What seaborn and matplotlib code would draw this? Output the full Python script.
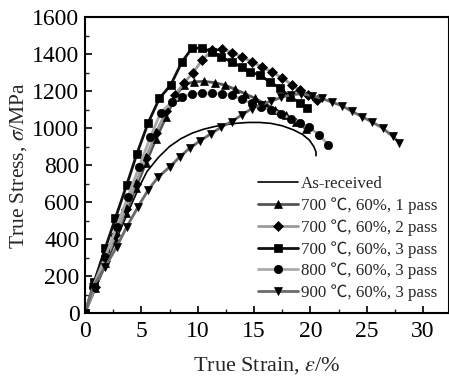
import numpy as np
import pandas as pd
import matplotlib
matplotlib.use("Agg")
import matplotlib.pyplot as plt
import seaborn as sns
from matplotlib.ticker import MultipleLocator

# ---- data ----
asr_x = [0, 1, 2, 3, 4, 4.8, 5.5, 6.5, 7.5, 8.5, 9.5, 10.5, 11.5, 12.5, 13.5, 14.5,
         15.5, 16.5, 17.5, 18.5, 19.3, 19.9, 20.3, 20.5, 20.5]
asr_y = [0, 140, 285, 430, 570, 680, 765, 840, 900, 942, 972, 993, 1008, 1018, 1026,
         1030, 1030, 1025, 1012, 990, 965, 935, 900, 870, 850]

p1_x = [0, 0.9, 1.8, 2.7, 3.6, 4.5, 5.4, 6.3, 7.2, 8.0, 8.8, 9.7, 10.6, 11.5, 12.4,
        13.3, 14.2, 15.1, 16.0, 16.9, 17.8, 18.7, 19.6]
p1_y = [0, 135, 270, 405, 540, 675, 810, 940, 1060, 1170, 1235, 1250, 1252, 1245,
        1232, 1210, 1185, 1160, 1130, 1100, 1068, 1035, 995]

p2_x = [0, 0.9, 1.8, 2.7, 3.6, 4.5, 5.4, 6.3, 7.2, 8.0, 8.8, 9.6, 10.4, 11.3, 12.2,
        13.0, 13.9, 14.8, 15.7, 16.6, 17.5, 18.4, 19.1, 19.8, 20.6]
p2_y = [0, 140, 280, 420, 560, 700, 840, 975, 1090, 1180, 1245, 1300, 1368, 1420,
        1428, 1408, 1385, 1358, 1330, 1303, 1270, 1232, 1205, 1178, 1151]

p3_x = [0, 0.8, 1.8, 2.7, 3.7, 4.6, 5.6, 6.6, 7.6, 8.6, 9.5, 10.4, 11.3, 12.1, 13.0,
        13.9, 14.6, 15.5, 16.4, 17.3, 18.2, 19.1, 19.7]
p3_y = [0, 165, 350, 513, 692, 860, 1027, 1160, 1232, 1357, 1432, 1432, 1411, 1384,
        1357, 1330, 1303, 1287, 1249, 1216, 1168, 1135, 1108]

t800_x = [0, 0.7, 1.8, 2.8, 3.8, 4.8, 5.8, 6.7, 7.7, 8.6, 9.5, 10.4, 11.3, 12.2, 13.0,
          13.9, 14.8, 15.6, 16.5, 17.4, 18.3, 19.1, 19.9, 20.8, 21.6]
t800_y = [0, 141, 303, 465, 627, 790, 951, 1081, 1140, 1170, 1185, 1187, 1187, 1185,
          1178, 1155, 1135, 1113, 1098, 1075, 1050, 1028, 1003, 962, 908]

t900_x = [0, 0.7, 1.8, 2.8, 3.7, 4.7, 5.6, 6.5, 7.5, 8.4, 9.3, 10.2, 11.2, 12.1, 13.0,
          13.9, 14.8, 15.6, 16.5, 17.4, 18.3, 19.2, 20.1, 21.0, 21.9, 22.8, 23.7, 24.6,
          25.5, 26.4, 27.3, 27.9]
t900_y = [0, 141, 249, 357, 465, 573, 665, 735, 789, 843, 892, 930, 970, 1005, 1035,
          1070, 1105, 1125, 1145, 1165, 1180, 1185, 1175, 1160, 1140, 1120, 1090, 1060,
          1032, 1000, 955, 920]

labels = ["As-received",
          "700 \u2103, 60%, 1 pass",
          "700 \u2103, 60%, 2 pass",
          "700 \u2103, 60%, 3 pass",
          "800 \u2103, 60%, 3 pass",
          "900 \u2103, 60%, 3 pass"]

x_ticks = [0, 5, 10, 15, 20, 25, 30]
y_ticks = [0, 200, 400, 600, 800, 1000, 1200, 1400, 1600]

series = [(asr_x, asr_y), (p1_x, p1_y), (p2_x, p2_y), (p3_x, p3_y),
          (t800_x, t800_y), (t900_x, t900_y)]

frames = []
for lab, (xs, ys) in zip(labels, series):
    frames.append(pd.DataFrame({"strain": xs, "stress": ys, "sample": lab,
                                "order": np.arange(len(xs))}))
df = pd.concat(frames, ignore_index=True)

# ---- style ----
sns.set_theme(style="ticks")
plt.rcParams["font.family"] = ["Liberation Serif", "Noto Sans CJK SC", "DejaVu Sans"]
plt.rcParams["mathtext.fontset"] = "stix"
plt.rcParams["xtick.direction"] = "in"
plt.rcParams["ytick.direction"] = "in"

fig = plt.figure(figsize=(4.49, 3.78), dpi=100)
ax = fig.add_axes([85 / 449, 1 - 313 / 378, (449 - 85) / 449, (313 - 17) / 378])

styles = {
    labels[0]: dict(color="black", marker=None, lw=1.2, ms=0),
    labels[1]: dict(color="#555555", marker="^", lw=2.0, ms=6),
    labels[2]: dict(color="#9a9a9a", marker="D", lw=2.0, ms=4.6),
    labels[3]: dict(color="#111111", marker="s", lw=2.0, ms=5.6),
    labels[4]: dict(color="#aaaaaa", marker="o", lw=2.0, ms=6),
    labels[5]: dict(color="#6a6a6a", marker="v", lw=2.0, ms=6),
}

for lab in labels:
    st = styles[lab]
    sub = df[df["sample"] == lab]
    kw = dict(data=sub, x="strain", y="stress", ax=ax, color=st["color"],
              linewidth=st["lw"], sort=False, estimator=None, label=lab)
    if st["marker"]:
        kw.update(marker=st["marker"], markersize=st["ms"],
                  markerfacecolor="black", markeredgecolor="black",
                  markeredgewidth=0.5)
    sns.lineplot(**kw)

ax.set_xlim(0, 32.3)
ax.set_ylim(0, 1600)
ax.set_xticks(x_ticks)
ax.set_yticks(y_ticks)
ax.xaxis.set_minor_locator(MultipleLocator(2.5))
ax.yaxis.set_minor_locator(MultipleLocator(100))
ax.tick_params(which="major", length=5, width=1.2, labelsize=17,
               colors="black")
ax.tick_params(axis="x", which="major", pad=6)
ax.tick_params(axis="y", which="major", pad=4)
ax.tick_params(which="minor", length=3, width=1.0)
for sp in ax.spines.values():
    sp.set_linewidth(1.5)
    sp.set_color("black")

ax.set_xlabel("True Strain, $\\mathit{\\varepsilon}$/%", fontsize=16, labelpad=9)
ax.set_ylabel("True Stress, $\\mathit{\\sigma}$/MPa", fontsize=15.5, labelpad=2)

leg = ax.legend(loc="lower right", bbox_to_anchor=(1.0, 0.0), frameon=False,
                fontsize=12.2, handlelength=2.4, handletextpad=0.15,
                labelspacing=0.3, borderaxespad=0.3)

fig.savefig("out.png", dpi=100)
